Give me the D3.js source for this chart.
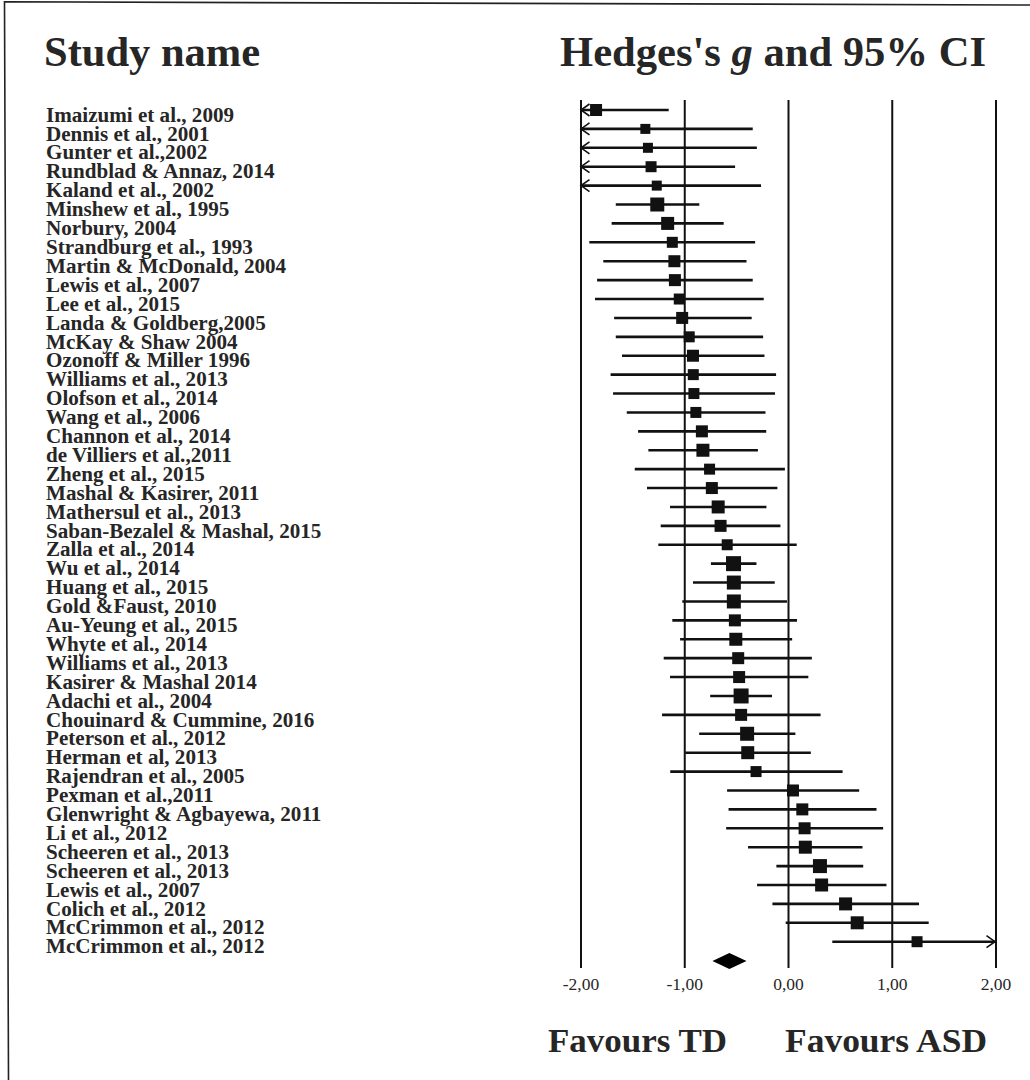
<!DOCTYPE html>
<html>
<head>
<meta charset="utf-8">
<script src="https://cdn.jsdelivr.net/npm/d3@7"></script>
<style>
  html, body { margin: 0; padding: 0; background: #fff; }
  svg { display: block; }
  text { font-family: "Liberation Serif", "Times New Roman", serif; }
</style>
</head>
<body>
<svg id="chart" width="1030" height="1080"></svg>
<script>
// ---------- data ----------
const studies = [
  "Imaizumi et al., 2009", "Dennis et al., 2001", "Gunter et al.,2002", "Rundblad & Annaz, 2014",
  "Kaland et al., 2002", "Minshew et al., 1995", "Norbury, 2004", "Strandburg et al., 1993",
  "Martin & McDonald, 2004", "Lewis et al., 2007", "Lee et al., 2015", "Landa & Goldberg,2005",
  "McKay & Shaw 2004", "Ozonoff & Miller 1996", "Williams et al., 2013", "Olofson et al., 2014",
  "Wang et al., 2006", "Channon et al., 2014", "de Villiers et al.,2011", "Zheng et al., 2015",
  "Mashal & Kasirer, 2011", "Mathersul et al., 2013", "Saban-Bezalel & Mashal, 2015", "Zalla et al., 2014",
  "Wu et al., 2014", "Huang et al., 2015", "Gold &Faust, 2010", "Au-Yeung et al., 2015",
  "Whyte et al., 2014", "Williams et al., 2013", "Kasirer & Mashal 2014", "Adachi et al., 2004",
  "Chouinard & Cummine, 2016", "Peterson et al., 2012", "Herman et al, 2013", "Rajendran et al., 2005",
  "Pexman et al.,2011", "Glenwright & Agbayewa, 2011", "Li et al., 2012", "Scheeren et al., 2013",
  "Scheeren et al., 2013", "Lewis et al., 2007", "Colich et al., 2012", "McCrimmon et al., 2012",
  "McCrimmon et al., 2012"
];
const hedgesG = [
  -1.85, -1.375, -1.35, -1.32, -1.265, -1.26, -1.16, -1.115, -1.095, -1.09,
  -1.048, -1.02, -0.952, -0.916, -0.913, -0.907, -0.888, -0.83, -0.82, -0.756,
  -0.734, -0.673, -0.65, -0.586, -0.525, -0.522, -0.522, -0.512, -0.503, -0.48,
  -0.471, -0.452, -0.452, -0.394, -0.388, -0.308, 0.048, 0.138, 0.16, 0.167,
  0.308, 0.324, 0.555, 0.667, 1.244
];
const lowerCI = [
  -2.55, -2.4, -2.4, -2.15, -2.3, -1.66, -1.70, -1.915, -1.78, -1.84,
  -1.86, -1.676, -1.66, -1.60, -1.71, -1.686, -1.554, -1.445, -1.346, -1.477,
  -1.359, -1.137, -1.227, -1.25, -0.743, -0.916, -1.019, -1.115, -1.04, -1.198,
  -1.137, -0.75, -1.214, -0.856, -0.99, -1.135, -0.587, -0.573, -0.596, -0.385,
  -0.112, -0.298, -0.15, -0.022, 0.427
];
const upperCI = [
  -1.15, -0.34, -0.30, -0.51, -0.26, -0.855, -0.62, -0.317, -0.40, -0.34,
  -0.234, -0.35, -0.24, -0.227, -0.115, -0.125, -0.217, -0.21, -0.29, -0.03,
  -0.102, -0.208, -0.073, 0.084, -0.304, -0.128, -0.01, 0.087, 0.04, 0.23,
  0.196, -0.154, 0.314, 0.071, 0.22, 0.526, 0.686, 0.853, 0.917, 0.718,
  0.725, 0.949, 1.263, 1.356, 2.06
];
// relative study weights (drive square size)
const weights = [
  1.44, 1.0, 1.0, 1.21, 1.0, 1.96, 1.69, 1.21, 1.44, 1.44,
  1.21, 1.44, 1.21, 1.44, 1.21, 1.21, 1.21, 1.44, 1.69, 1.21,
  1.44, 1.69, 1.44, 1.21, 2.25, 1.96, 1.96, 1.44, 1.69, 1.44,
  1.44, 2.25, 1.44, 1.96, 1.69, 1.21, 1.44, 1.44, 1.44, 1.69,
  1.96, 1.69, 1.69, 1.69, 1.21
];
// pooled summary effect
const summary = { g: -0.565, lo: -0.728, hi: -0.40 };
const tickValues = [-2, -1, 0, 1, 2];
const titleLeft = "Study name";
const titleRightParts = ["Hedges's ", "g", " and 95% CI"];
const favourLeft = "Favours TD";
const favourRight = "Favours ASD";

// ---------- layout ----------
const svg = d3.select("#chart");
const ink = "#111";
const txt = "#262626";

const x = d3.scaleLinear().domain([-2, 2]).range([580.5, 995.5]);
const y = d3.scalePoint().domain(d3.range(studies.length)).range([110, 941.7]);
const side = d3.scaleSqrt().domain([0, 1]).range([0, 10]);
const gridTop = 100, gridBottom = 968;

// frame (slightly skewed like the scan)
svg.append("path")
  .attr("d", "M1030,5 L4.5,1.8 L8.5,1080")
  .attr("fill", "none").attr("stroke", "#222").attr("stroke-width", 1.6);

// titles
svg.append("text").attr("x", 44).attr("y", 66)
  .attr("font-size", 42).attr("font-weight", "bold").attr("fill", txt)
  .attr("textLength", 216).attr("lengthAdjust", "spacingAndGlyphs")
  .text(titleLeft);
const tr = svg.append("text").attr("x", 560).attr("y", 66)
  .attr("font-size", 42).attr("font-weight", "bold").attr("fill", txt)
  .attr("textLength", 426).attr("lengthAdjust", "spacingAndGlyphs");
tr.append("tspan").text(titleRightParts[0]);
tr.append("tspan").attr("font-style", "italic").text(titleRightParts[1]);
tr.append("tspan").text(titleRightParts[2]);

// axis with vertical reference lines
const loc = d3.formatLocale({ decimal: ",", thousands: ".", grouping: [3], currency: ["", ""], minus: "-" });
const fmt = loc.format(".2f");
const axis = d3.axisBottom(x).tickValues(tickValues).tickFormat(fmt)
  .tickSizeInner(-(gridBottom - gridTop)).tickSizeOuter(0).tickPadding(10);
const ag = svg.append("g").attr("transform", `translate(0,${gridBottom})`).call(axis);
ag.select(".domain").remove();
ag.selectAll(".tick line").attr("stroke", ink).attr("stroke-width", 2);
ag.selectAll(".tick text")
  .attr("font-family", '"Liberation Serif", "Times New Roman", serif')
  .attr("font-size", 17.5).attr("fill", txt);

// study labels (slightly wide, as in the reference)
svg.append("g").attr("transform", "translate(46,0) scale(1.055,1)")
  .selectAll("text").data(studies).join("text")
  .attr("x", 0).attr("y", (d, i) => y(i) + 11.7)
  .attr("font-size", 20).attr("font-weight", "bold").attr("fill", txt)
  .text(d => d);

// CI lines
const rows = studies.map((s, i) => ({ i, g: hedgesG[i], lo: lowerCI[i], hi: upperCI[i], w: weights[i] }));
const [dMin, dMax] = x.domain();
const rg = svg.append("g");
rg.selectAll("line.ci").data(rows).join("line").attr("class", "ci")
  .attr("x1", d => x(Math.max(d.lo, dMin))).attr("x2", d => x(Math.min(d.hi, dMax)))
  .attr("y1", d => y(d.i)).attr("y2", d => y(d.i))
  .attr("stroke", ink).attr("stroke-width", 2.6);

// truncation arrows
rg.selectAll("path.al").data(rows.filter(d => d.lo < dMin)).join("path").attr("class", "al")
  .attr("d", d => { const x0 = x(dMin), yy = y(d.i); return `M${x0 + 9},${yy - 6} L${x0 + 0.5},${yy} L${x0 + 9},${yy + 6}`; })
  .attr("fill", "none").attr("stroke", ink).attr("stroke-width", 1.6);
rg.selectAll("path.ar").data(rows.filter(d => d.hi > dMax)).join("path").attr("class", "ar")
  .attr("d", d => { const x0 = x(dMax), yy = y(d.i); return `M${x0 - 9},${yy - 6} L${x0 - 0.5},${yy} L${x0 - 9},${yy + 6}`; })
  .attr("fill", "none").attr("stroke", ink).attr("stroke-width", 1.6);

// squares
rg.selectAll("rect").data(rows).join("rect")
  .attr("x", d => x(d.g) - side(d.w) / 2).attr("y", d => y(d.i) - side(d.w) / 2)
  .attr("width", d => side(d.w)).attr("height", d => side(d.w))
  .attr("fill", ink);

// summary diamond
const dy = 961, dh = 8;
svg.append("path")
  .attr("d", `M${x(summary.lo)},${dy} L${x(summary.g)},${dy - dh} L${x(summary.hi)},${dy} L${x(summary.g)},${dy + dh} Z`)
  .attr("fill", "#000");

// favours labels
svg.append("text").attr("x", 548).attr("y", 1052)
  .attr("font-size", 34).attr("font-weight", "bold").attr("fill", txt)
  .attr("textLength", 179).attr("lengthAdjust", "spacingAndGlyphs")
  .text(favourLeft);
svg.append("text").attr("x", 785).attr("y", 1052)
  .attr("font-size", 34).attr("font-weight", "bold").attr("fill", txt)
  .attr("textLength", 202).attr("lengthAdjust", "spacingAndGlyphs")
  .text(favourRight);
</script>
</body>
</html>
